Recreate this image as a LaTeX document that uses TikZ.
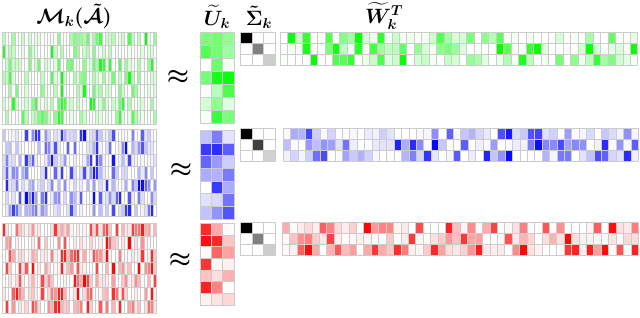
\documentclass[tikz,border=0pt]{standalone}
\usepackage{amsmath}
\usepackage{amssymb}
\begin{document}
\begin{tikzpicture}[x=1pt,y=-1pt]
\useasboundingbox (0,0) rectangle (640,317);
\pgfmathsetseed{11}
\tikzset{
  cell/.style={draw=gray!40, line width=0.35pt},
  lbl/.style={inner sep=0pt, font=\fontsize{20}{24}\selectfont\boldmath},
  approx/.style={inner sep=0pt, font=\fontsize{29}{32}\selectfont\boldmath}
}
% \heatmap{colour}{x0}{y0}{ncols}{nrows}{cellwidth}{rowheight}{power}
\newcommand{\heatmap}[8]{%
  \foreach \ci in {1,...,#4}{%
    \foreach \rj in {1,...,#5}{%
      \pgfmathtruncatemacro{\myval}{100*(rnd^#8)}%
      \filldraw[cell, fill=#1!\myval!white]
        ({#2+(\ci-1)*#6},{#3+(\rj-1)*#7}) rectangle +(#6,#7);
    }%
  }%
}
\newcommand{\sigmat}[5]{% x0 y0 g1 g2 g3
  \foreach \ci in {1,2,3}{\foreach \rj in {1,2,3}{%
    \draw[cell] ({#1+(\ci-1)*11.7},{#2+(\rj-1)*11}) rectangle +(11.7,11);}}
  \filldraw[cell, fill=black!#3] (#1,#2) rectangle +(11.7,11);
  \filldraw[cell, fill=black!#4] ({#1+11.7},{#2+11}) rectangle +(11.7,11);
  \filldraw[cell, fill=black!#5] ({#1+23.4},{#2+22}) rectangle +(11.7,11);
}

% labels
\node[lbl] (lM) at (74,16) {$\mathcal{M}_k(\tilde{\mathcal{A}})$};
\node[lbl] (lU) at (217,17) {$\widetilde{U}_k$};
\node[lbl] (lS) at (259,17) {$\tilde{\Sigma}_k$};
\node[lbl] (lW) at (384,16) {$\widetilde{W}_k^T$};

% green
\heatmap{green}{2}{32}{48}{7}{3.22}{13.1}{3}
\heatmap{green}{200}{32}{3}{7}{11.3}{13}{1.4}
\sigmat{240}{32}{100}{50}{20}
\heatmap{green}{280}{32}{48}{3}{7.45}{11}{2.6}
\node[approx] (a1) at (178,77) {$\approx$};

% blue
\heatmap{blue}{2}{129}{48}{7}{3.22}{12.5}{3}
\heatmap{blue}{200}{130}{3}{7}{11.3}{12.7}{1.2}
\sigmat{240}{128}{100}{75}{18}
\heatmap{blue}{283}{128}{48}{3}{7.4}{11}{2.6}
\node[approx] (a2) at (181,170) {$\approx$};

% red
\heatmap{red}{2}{223}{48}{7}{3.22}{12.9}{3}
\heatmap{red}{200}{223}{3}{7}{11.3}{11.7}{1.2}
\sigmat{240}{222}{100}{50}{20}
\heatmap{red}{282}{222}{48}{3}{7.42}{11}{2.6}
\node[approx] (a3) at (180,260) {$\approx$};
\end{tikzpicture}
\end{document}
